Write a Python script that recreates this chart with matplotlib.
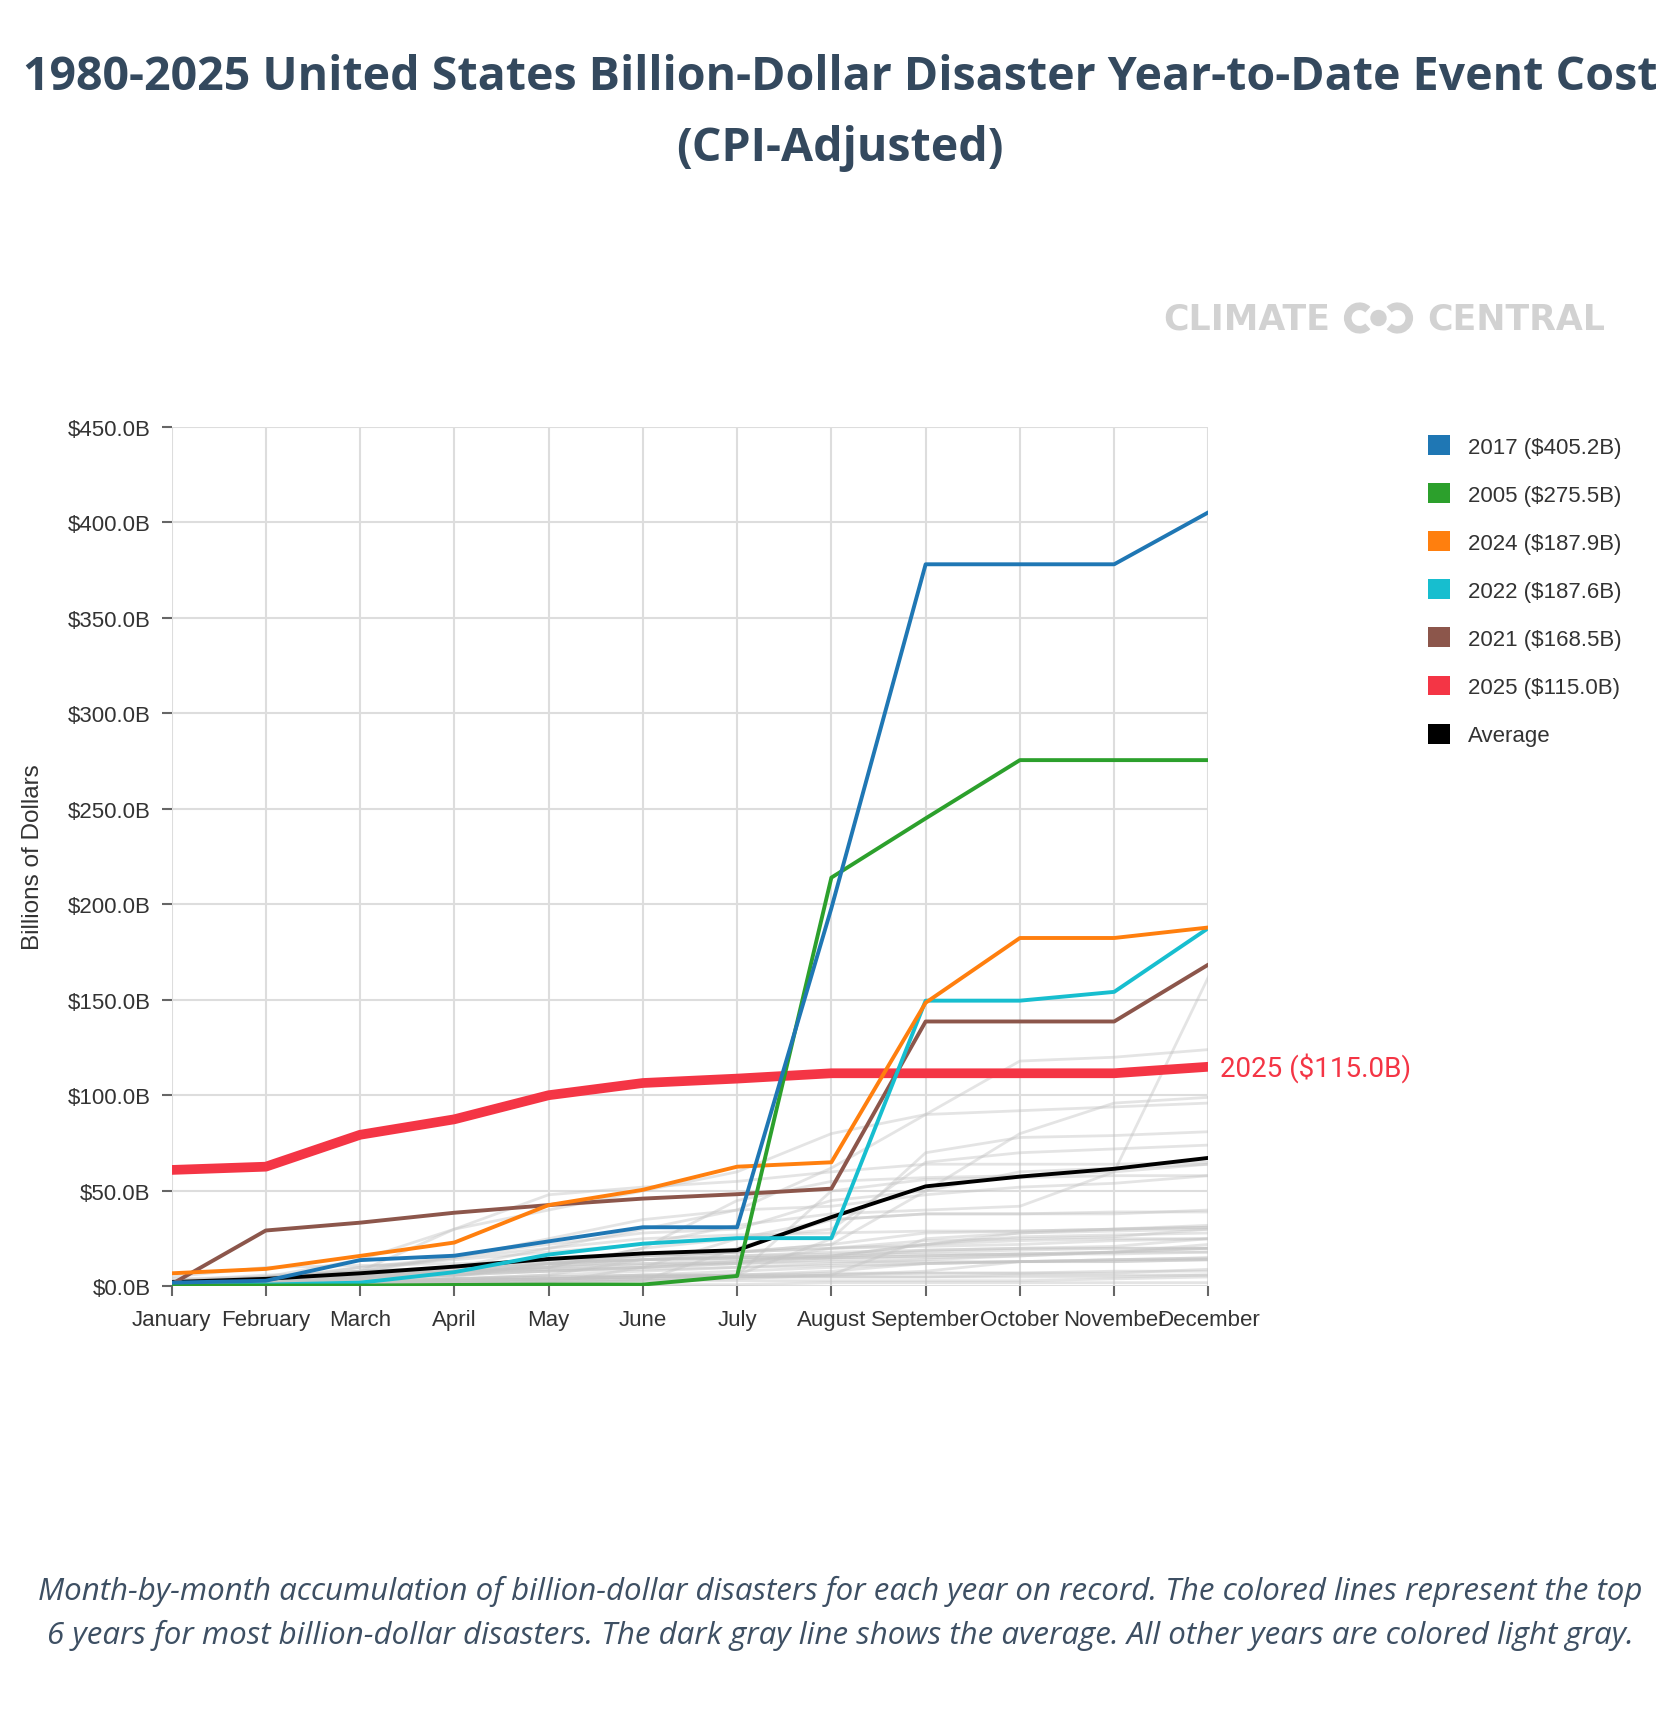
import matplotlib
matplotlib.use("Agg")
import matplotlib.pyplot as plt
from matplotlib.patches import Patch, Arc, Circle

months = ["January", "February", "March", "April", "May", "June", "July",
          "August", "September", "October", "November", "December"]

# highlighted years (cumulative cost, billions of dollars)
y2017 = [2, 3, 13.8, 16.1, 23.6, 31, 31, 198, 378, 378, 378, 405.2]
y2005 = [0.5, 0.5, 0.5, 0.8, 1, 1, 5.5, 214, 245, 275.5, 275.5, 275.5]
y2024 = [6.9, 9.2, 16, 23, 42.6, 50.6, 62.7, 65, 148.5, 182.4, 182.4, 187.9]
y2022 = [0.3, 1, 2, 7.5, 16.7, 22.4, 25.3, 25.3, 149.6, 149.6, 154.2, 187.6]
y2021 = [1.2, 29.3, 33.4, 38.6, 42.6, 46, 48.3, 51.2, 138.7, 138.7, 138.7, 168.5]
y2025 = [61, 62.7, 79.4, 87.5, 100.1, 106.5, 108.8, 111.6, 111.6, 111.6, 111.6, 115.0]
average = [2.3, 4, 6.9, 10.4, 14.4, 17.3, 19, 36.3, 52.4, 57.5, 61.6, 67.3]

top_years = ["2017", "2005", "2024", "2022", "2021", "2025"]
top_costs = [y2017, y2005, y2024, y2022, y2021, y2025]
top_colors = ["#1f77b4", "#2ca02c", "#ff7f0e", "#17becf", "#8c564b", "#f43545"]

# all other years, light gray
other_years = [1980, 1981, 1982, 1983, 1984, 1985, 1986, 1987, 1988, 1989,
               1990, 1991, 1992, 1993, 1994, 1995, 1996, 1997, 1998, 1999,
               2000, 2001, 2002, 2003, 2004, 2006, 2007, 2008, 2009, 2010,
               2011, 2012, 2013, 2014, 2015, 2016, 2018, 2019, 2020, 2023]
other_costs = [
    [0, 0, 0, 1, 2, 3, 20, 35, 38, 38, 38, 40],
    [0, 1, 1, 2, 2, 3, 3, 3, 3, 3, 4, 5],
    [1, 2, 3, 4, 5, 6, 6, 6, 7, 7, 7, 9],
    [2, 3, 5, 6, 8, 10, 12, 20, 24, 25, 26, 30],
    [0, 0, 1, 2, 3, 4, 5, 5, 5, 5, 5, 6],
    [0, 1, 2, 3, 4, 5, 6, 8, 12, 13, 14, 15],
    [0, 0, 1, 2, 3, 4, 5, 5, 5, 6, 6, 6],
    [0, 0, 0, 0, 1, 1, 1, 2, 2, 2, 2, 2],
    [0, 0, 0, 0, 2, 10, 25, 35, 38, 38, 39, 39],
    [0, 1, 2, 3, 4, 5, 5, 6, 25, 28, 30, 32],
    [1, 2, 3, 4, 5, 6, 6, 7, 7, 7, 8, 8],
    [0, 1, 1, 2, 3, 3, 4, 6, 8, 13, 13, 14],
    [0, 1, 2, 3, 4, 5, 6, 50, 56, 57, 58, 58],
    [0, 1, 8, 9, 10, 20, 45, 55, 57, 58, 60, 64],
    [5, 10, 11, 12, 13, 14, 16, 17, 18, 19, 20, 20],
    [2, 5, 8, 10, 12, 14, 15, 16, 22, 24, 25, 25],
    [3, 6, 7, 8, 9, 11, 13, 15, 19, 20, 20, 20],
    [4, 5, 6, 10, 11, 12, 12, 13, 13, 13, 14, 14],
    [2, 4, 6, 8, 10, 14, 18, 22, 28, 29, 30, 31],
    [3, 4, 5, 6, 8, 10, 13, 16, 17, 17, 18, 18],
    [0, 1, 2, 3, 4, 6, 8, 10, 12, 13, 13, 14],
    [0, 1, 2, 4, 6, 14, 15, 15, 16, 17, 17, 18],
    [0, 1, 2, 4, 6, 8, 10, 12, 14, 16, 18, 20],
    [1, 2, 3, 5, 12, 14, 15, 16, 22, 28, 29, 30],
    [0, 1, 2, 3, 4, 5, 6, 25, 70, 78, 79, 81],
    [1, 2, 6, 10, 12, 14, 16, 18, 19, 20, 21, 25],
    [0, 2, 4, 8, 9, 10, 12, 14, 15, 16, 18, 22],
    [1, 3, 4, 6, 10, 20, 25, 30, 65, 70, 72, 74],
    [1, 3, 5, 8, 10, 12, 14, 15, 16, 17, 18, 20],
    [1, 2, 5, 7, 8, 9, 10, 11, 12, 13, 14, 15],
    [3, 5, 8, 30, 48, 52, 55, 60, 64, 64, 64, 65],
    [1, 3, 10, 14, 18, 22, 32, 38, 40, 42, 60, 162],
    [1, 2, 4, 10, 20, 25, 27, 28, 29, 29, 30, 31],
    [1, 3, 4, 6, 12, 16, 18, 20, 21, 22, 24, 25],
    [1, 4, 6, 8, 12, 16, 18, 20, 22, 26, 27, 28],
    [2, 4, 8, 16, 22, 28, 30, 45, 50, 60, 62, 64],
    [2, 4, 8, 10, 14, 16, 18, 22, 50, 80, 96, 99],
    [2, 4, 10, 15, 25, 35, 40, 42, 48, 52, 54, 58],
    [2, 4, 8, 15, 20, 30, 40, 62, 90, 118, 120, 124],
    [2, 5, 14, 30, 40, 50, 60, 80, 90, 92, 94, 96],
]

yticks = [0, 50, 100, 150, 200, 250, 300, 350, 400, 450]

title_color = "#34495e"
plt.rcParams["font.family"] = ["Liberation Sans", "DejaVu Sans"]

fig = plt.figure(figsize=(16.8, 17.24), dpi=100)
ax = fig.add_axes([0.1021, 0.2532, 0.6172, 0.4987])

x = list(range(len(months)))
for row in other_costs:
    ax.plot(x, row, color="#c4c4c4", lw=2, alpha=0.45, zorder=2)

ax.plot(x, average, color="black", lw=2.8, zorder=3)
draw_order = [5, 4, 3, 2, 1, 0]
for i in draw_order:
    lw = 7 if top_years[i] == "2025" else 2.8
    ax.plot(x, top_costs[i], color=top_colors[i], lw=lw, zorder=4,
            solid_capstyle="round")

ax.annotate("2025 ($%.1fB)" % y2025[-1], xy=(x[-1], y2025[-1]),
            xytext=(12, 0), textcoords="offset pixels", va="center", ha="left",
            color="#f43545", fontsize=20, family=["Roboto", "DejaVu Sans"],
            annotation_clip=False)

ax.set_xlim(0, 11)
ax.set_ylim(0, 450)
ax.set_xticks(x)
ax.set_xticklabels(months)
ax.set_yticks(yticks)
ax.set_yticklabels(["$%.1fB" % v for v in yticks])
ax.tick_params(axis="both", labelsize=16, labelcolor="#333333", color="#666666",
               length=7, width=1.5)
ax.tick_params(axis="x", pad=9)
ax.tick_params(axis="y", pad=8)
ax.grid(True, color="#dddddd", lw=1.5, zorder=0)
ax.set_axisbelow(True)
for s in ax.spines.values():
    s.set_visible(False)

fig.text(33 / 1680, 1 - 857 / 1724, "Billions of Dollars", rotation=90,
         ha="center", va="center", fontsize=17.5, color="#333333")

# legend
handles = [Patch(facecolor=c, edgecolor="none") for c in top_colors]
handles.append(Patch(facecolor="black", edgecolor="none"))
labels = ["%s ($%.1fB)" % (yr, cost[-1]) for yr, cost in zip(top_years, top_costs)]
labels.append("Average")
fig.legend(handles, labels, loc="upper left", bbox_to_anchor=(1428 / 1680, 1 - 436 / 1724),
           frameon=False, fontsize=16, labelcolor="#333333", handlelength=1.0,
           handleheight=1.0, handletextpad=0.8, labelspacing=1.15, borderpad=0,
           borderaxespad=0)

# title
fig.text(0.5, 1 - 77 / 1724, "1980-2025 United States Billion-Dollar Disaster Year-to-Date Event Cost",
         ha="center", va="center", fontsize=33.5, weight="bold", color=title_color,
         family=["Open Sans", "DejaVu Sans"])
fig.text(0.5, 1 - 148 / 1724, "(CPI-Adjusted)", ha="center", va="center", fontsize=33.5,
         weight="bold", color=title_color, family=["Open Sans", "DejaVu Sans"])

# logo
logo_grey = "#d2d2d2"
fig.text(1163 / 1680, 1 - 319 / 1724, "CLIMATE", ha="left", va="center", fontsize=25,
         weight="bold", color=logo_grey, family=["DejaVu Sans"])
fig.text(1605 / 1680, 1 - 319 / 1724, "CENTRAL", ha="right", va="center", fontsize=25,
         weight="bold", color=logo_grey, family=["DejaVu Sans"])
lax = fig.add_axes([1340 / 1680, 1 - 339 / 1724, 80 / 1680, 40 / 1724])
lax.set_xlim(0, 80)
lax.set_ylim(0, 40)
lax.axis("off")
lax.add_patch(Arc((19.5, 20), 23.5, 23.5, theta1=45, theta2=315, lw=5.5, color=logo_grey))
lax.add_patch(Arc((57.5, 20), 23.5, 23.5, theta1=-135, theta2=135, lw=5.5, color=logo_grey))
lax.add_patch(Circle((38.5, 20), 7.5, color=logo_grey))

# caption
cap1 = ("Month-by-month accumulation of billion-dollar disasters for each year on record. "
        "The colored lines represent the top")
cap2 = ("6 years for most billion-dollar disasters. The dark gray line shows the average. "
        "All other years are colored light gray.")
fig.text(0.5, 1 - 1591 / 1724, cap1, ha="center", va="center", fontsize=22.5,
         style="italic", color="#3d4f63", family=["Open Sans", "DejaVu Sans"])
fig.text(0.5, 1 - 1635 / 1724, cap2, ha="center", va="center", fontsize=22.5,
         style="italic", color="#3d4f63", family=["Open Sans", "DejaVu Sans"])

fig.savefig("out.png", dpi=100, facecolor="white")
